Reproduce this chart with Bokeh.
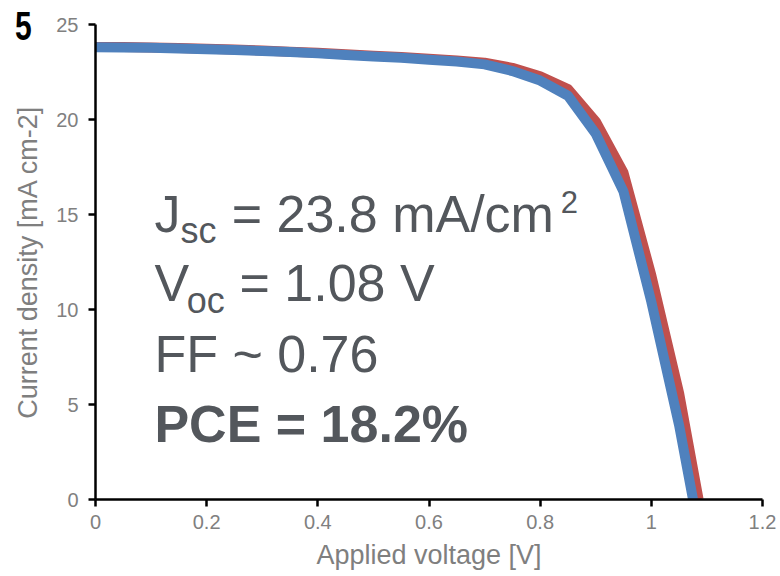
from bokeh.plotting import figure
from bokeh.models import Range1d, FixedTicker, Label, Div
from bokeh.layouts import column
from bokeh.embed import file_html
from bokeh.resources import INLINE

# ---- data ----
voltage_blue = [0.00, 0.05, 0.10, 0.15, 0.20, 0.25, 0.30, 0.35, 0.40, 0.45, 0.50,
                0.55, 0.60, 0.65, 0.70, 0.75, 0.80, 0.85, 0.90, 0.95, 1.00, 1.05, 1.075]
current_blue = [23.80, 23.79, 23.77, 23.74, 23.70, 23.66, 23.61, 23.55, 23.48, 23.40, 23.32,
                23.25, 23.15, 23.05, 22.90, 22.55, 22.05, 21.25, 19.25, 16.2, 10.4, 3.9, 0.0]

voltage_red = [0.00, 0.05, 0.10, 0.15, 0.20, 0.25, 0.30, 0.35, 0.40, 0.45, 0.50,
               0.55, 0.60, 0.65, 0.70, 0.75, 0.80, 0.85, 0.90, 0.95, 1.00, 1.05, 1.085]
current_red = [23.82, 23.81, 23.79, 23.76, 23.72, 23.68, 23.63, 23.57, 23.51, 23.43, 23.36,
               23.29, 23.20, 23.11, 22.99, 22.72, 22.28, 21.60, 19.90, 17.2, 11.8, 5.6, 0.0]

x_ticks = [0, 0.2, 0.4, 0.6, 0.8, 1.0, 1.2]
x_tick_labels = ["0", "0.2", "0.4", "0.6", "0.8", "1", "1.2"]
y_ticks = [0, 5, 10, 15, 20, 25]
y_tick_labels = ["0", "5", "10", "15", "20", "25"]

x_label = "Applied voltage [V]"
y_label = "Current density [mA cm-2]"

FONT = "Liberation Sans"
TEXT_COLOR = "#53575c"

p = figure(width=780, height=576, x_range=Range1d(0, 1.2), y_range=Range1d(0, 25),
           output_backend="svg", toolbar_location=None,
           min_border_left=95, min_border_right=18, min_border_top=24, min_border_bottom=77)

p.xgrid.visible = False
p.ygrid.visible = False
p.outline_line_color = None
p.background_fill_color = "white"
p.border_fill_color = "white"

for ax in (p.xaxis[0], p.yaxis[0]):
    ax.axis_line_color = "black"
    ax.axis_line_width = 2.5
    ax.major_tick_line_color = "black"
    ax.major_tick_line_width = 2.5
    ax.major_tick_out = 7
    ax.major_tick_in = 0
    ax.minor_tick_out = 0
    ax.minor_tick_in = 0
    ax.major_label_text_font = FONT
    ax.major_label_text_font_size = "20px"
    ax.major_label_text_color = "#808080"
    ax.axis_label_text_font = FONT
    ax.axis_label_text_font_size = "27px"
    ax.axis_label_text_font_style = "normal"
    ax.axis_label_text_color = "#7f7f7f"

p.xaxis.ticker = FixedTicker(ticks=x_ticks)
p.yaxis.ticker = FixedTicker(ticks=y_ticks)
p.xaxis.major_label_overrides = {t: l for t, l in zip(x_ticks, x_tick_labels)}
p.yaxis.major_label_overrides = {t: l for t, l in zip(y_ticks, y_tick_labels)}
p.xaxis.major_label_standoff = 8
p.yaxis.major_label_standoff = 10
p.xaxis.axis_label = x_label
p.yaxis.axis_label = y_label
p.xaxis.axis_label_standoff = 8
p.yaxis.axis_label_standoff = 10

p.line(voltage_red, current_red, line_color="#C0504D", line_width=10, line_join="round")
p.line(voltage_blue, current_blue, line_color="#4F81BD", line_width=10, line_join="round")

def lab(x, y, text, size, bold=False, color=TEXT_COLOR):
    p.add_layout(Label(x=x, y=y, text=text, text_font=FONT, text_font_size=size,
                       text_font_style="bold" if bold else "normal",
                       text_color=color, text_baseline="alphabetic", text_align="left"))

lab(0.106, 15.05, "J", "52px")
lab(0.153, 14.15, "sc", "36px")
lab(0.245, 15.05, "= 23.8 mA/cm", "52px")
lab(0.837, 15.68, "2", "31px")

lab(0.106, 11.42, "V", "52px")
lab(0.164, 10.47, "oc", "36px")
lab(0.259, 11.42, "= 1.08 V", "52px")

lab(0.106, 7.68, "FF ~ 0.76", "52px")
lab(0.106, 4.0, "PCE = 18.2%", "52px", bold=True)

# cropped panel mark in the top-left corner (outside the plot frame)
corner = Div(text="5", width=30, height=45,
             styles={"position": "absolute", "left": "10px", "top": "1px",
                     "font-family": "Liberation Sans", "font-weight": "bold",
                     "font-size": "40px", "line-height": "40px", "color": "black",
                     "transform": "scaleX(0.75)", "transform-origin": "left top",
                     "z-index": "10"})

layout = column(p, corner)
open("out.html", "w").write(file_html(layout, INLINE))
